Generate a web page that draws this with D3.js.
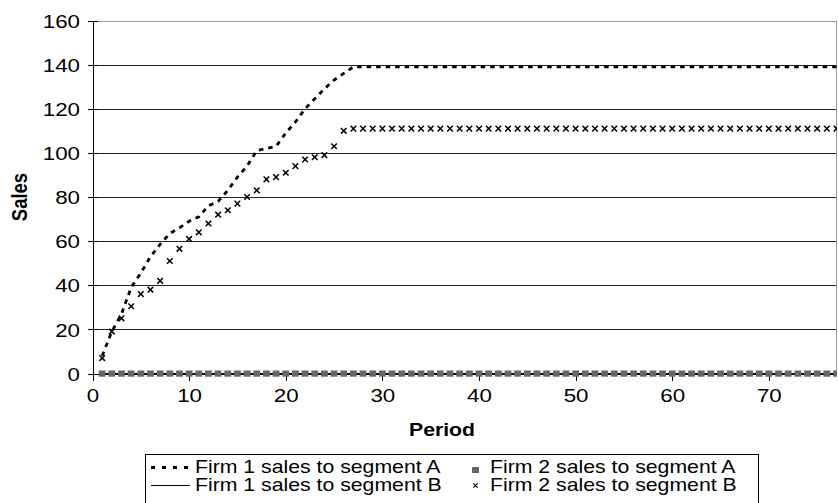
<!DOCTYPE html>
<html><head><meta charset="utf-8">
<script src="https://cdn.jsdelivr.net/npm/d3@7"></script>
<style>body{margin:0;background:#fff}svg{display:block}text{font-family:"Liberation Sans",Arial,sans-serif;fill:#000}</style>
</head><body>
<svg id="c" width="838" height="503"></svg>
<script>
const periods = [1,2,3,4,5,6,7,8,9,10,11,12,13,14,15,16,17,18,19,20,21,22,23,24,25,26,27,28,29,30,31,32,33,34,35,36,37,38,39,40,41,42,43,44,45,46,47,48,49,50,51,52,53,54,55,56,57,58,59,60,61,62,63,64,65,66,67,68,69,70,71,72,73,74,75,76,77];
const firm1A = [8,19,27,39,45.5,53,58.5,63.5,66,69,71,76,78,83,89,94,101,102,103,109,114,120,124.5,129,133,136,
  139,139,139,139,139,139,139,139,139,139,
  139,139,139,139,139,139,139,139,139,139,
  139,139,139,139,139,139,139,139,139,139,
  139,139,139,139,139,139,139,139,139,139,
  139,139,139,139,139,139,139,139,139,139,139];
const firm1B = [0,0,0,0,0,0,0,0,0,0,0,0,0,0,0,0,0,0,0,0,0,0,0,0,0,0,0,0,0,0,0,0,0,0,0,0,0,0,0,0,0,0,0,0,0,0,0,0,0,0,0,0,0,0,0,0,0,0,0,0,0,0,0,0,0,0,0,0,0,0,0,0,0,0,0,0,0];
const firm2A = [0,0,0,0,0,0,0,0,0,0,0,0,0,0,0,0,0,0,0,0,0,0,0,0,0,0,0,0,0,0,0,0,0,0,0,0,0,0,0,0,0,0,0,0,0,0,0,0,0,0,0,0,0,0,0,0,0,0,0,0,0,0,0,0,0,0,0,0,0,0,0,0,0,0,0,0,0];
const firm2B = [7,19,25,30.5,36,38,42,51,56.5,61,64,68,72,74,77,80,83,88,89,91,94,97,98,99,103,110,
  111,111,111,111,111,111,111,111,111,111,
  111,111,111,111,111,111,111,111,111,111,
  111,111,111,111,111,111,111,111,111,111,
  111,111,111,111,111,111,111,111,111,111,
  111,111,111,111,111,111,111,111,111,111,111];
const xTicks = [0,10,20,30,40,50,60,70];
const yTicks = [0,20,40,60,80,100,120,140,160];
const seriesNames = ["Firm 1 sales to segment A","Firm 1 sales to segment B","Firm 2 sales to segment A","Firm 2 sales to segment B"];

const K = 1.2; // horizontal text stretch
const svg = d3.select("#c");
const L = 92.5, R = 836.5, T = 20.5, B = 373.5;
const x = d3.scaleLinear().domain([0, 77]).range([L, R]);
const y = d3.scaleLinear().domain([0, 160]).range([B, T]);

function stretch(sel, k) {
  sel.each(function () {
    const t = d3.select(this);
    const tx = +t.attr("x") || 0, ty = +t.attr("y") || 0;
    t.attr("x", 0).attr("y", 0).attr("transform", `translate(${tx},${ty}) scale(${k},1)`);
  });
}

// gridlines
const grid = svg.append("g").attr("transform", `translate(${L},0)`)
  .call(d3.axisLeft(y).tickValues(yTicks.filter(v => v > 0)).tickSize(-(R - L)).tickFormat(""));
grid.select(".domain").remove();
grid.selectAll("line").attr("stroke", d => d === 160 ? "#9a9a9a" : "#262626").attr("shape-rendering", "crispEdges");
// right border
svg.append("line").attr("x1", R).attr("x2", R).attr("y1", T).attr("y2", B)
  .attr("stroke", "#9a9a9a").attr("shape-rendering", "crispEdges");

// axes
const yAxis = svg.append("g").attr("transform", `translate(${L},0)`)
  .call(d3.axisLeft(y).tickValues(yTicks).tickSizeInner(5).tickSizeOuter(0));
yAxis.select(".domain").attr("stroke", "#000").attr("shape-rendering", "crispEdges");
yAxis.selectAll(".tick line").attr("x1", 5).attr("stroke", "#000").attr("shape-rendering", "crispEdges");
yAxis.selectAll(".tick text").attr("x", -12.5).attr("font-size", 18.6).attr("dy", "0.36em");
stretch(yAxis.selectAll(".tick text"), K);

const xAxis = svg.append("g").attr("transform", `translate(0,${B})`)
  .call(d3.axisBottom(x).tickValues(xTicks).tickSizeInner(7).tickSizeOuter(0));
xAxis.select(".domain").attr("stroke", "#000").attr("shape-rendering", "crispEdges");
xAxis.selectAll(".tick line").attr("stroke", "#000").attr("shape-rendering", "crispEdges");
xAxis.selectAll(".tick text").attr("y", 15).attr("font-size", 18.6);
stretch(xAxis.selectAll(".tick text"), K);

// clip
svg.append("clipPath").attr("id", "clip").append("rect")
  .attr("x", L).attr("y", 0).attr("width", R - L + 0.5).attr("height", 395);
const plot = svg.append("g").attr("clip-path", "url(#clip)");

const line = d3.line().x((d, i) => x(periods[i])).y(d => y(d));

// Firm 1 B (solid)
plot.append("path").datum(firm1B).attr("d", line).attr("fill", "none").attr("stroke", "#000").attr("stroke-width", 1);
// Firm 2 A squares
plot.selectAll(".sq").data(firm2A).join("rect").attr("class", "sq")
  .attr("x", (d, i) => x(periods[i]) - 3.4).attr("y", d => y(d) - 3)
  .attr("width", 6.8).attr("height", 6.2).attr("fill", "#666");
// Firm 1 A dashed
plot.append("path").datum(firm1A).attr("d", line).attr("fill", "none").attr("stroke", "#000")
  .attr("stroke-width", 2.8).attr("stroke-dasharray", "4.5,5");
// Firm 2 B crosses
const cross = s => `M${-s},${-s}L${s},${s}M${-s},${s}L${s},${-s}`;
plot.selectAll(".xm").data(firm2B).join("path").attr("class", "xm")
  .attr("transform", (d, i) => `translate(${x(periods[i])},${y(d)})`)
  .attr("d", cross(2.8)).attr("stroke", "#000").attr("stroke-width", 1.5).attr("fill", "none");

// axis titles
const tP = svg.append("text").attr("x", 442).attr("y", 436).attr("text-anchor", "middle")
  .attr("font-size", 17.7).attr("font-weight", "bold").text("Period");
stretch(tP, K);
svg.append("text").attr("text-anchor", "middle").attr("font-size", 18.5).attr("font-weight", "bold")
  .attr("transform", `translate(27,197) scale(${K},1) rotate(-90)`).text("Sales");

// legend
const lg = svg.append("g");
lg.append("rect").attr("x", 145.5).attr("y", 454.5).attr("width", 613).attr("height", 70)
  .attr("fill", "none").attr("stroke", "#000").attr("stroke-width", 1);
lg.append("line").attr("x1", 151).attr("x2", 191).attr("y1", 467.5).attr("y2", 467.5)
  .attr("stroke", "#000").attr("stroke-width", 2.8).attr("stroke-dasharray", "4,7");
lg.append("line").attr("x1", 151).attr("x2", 190).attr("y1", 485.5).attr("y2", 485.5)
  .attr("stroke", "#000").attr("stroke-width", 1);
lg.append("rect").attr("x", 472).attr("y", 467).attr("width", 7).attr("height", 6).attr("fill", "#666");
lg.append("path").attr("transform", "translate(475.5,485.5)").attr("d", cross(2.2))
  .attr("stroke", "#000").attr("stroke-width", 1.2);
const legendPos = [[195, 473], [195, 491], [490, 473], [490, 491]];
seriesNames.forEach((n, i) => {
  const t = lg.append("text").attr("x", legendPos[i][0]).attr("y", legendPos[i][1])
    .attr("font-size", 17.7).text(n);
  stretch(t, K);
});
</script>
</body></html>
